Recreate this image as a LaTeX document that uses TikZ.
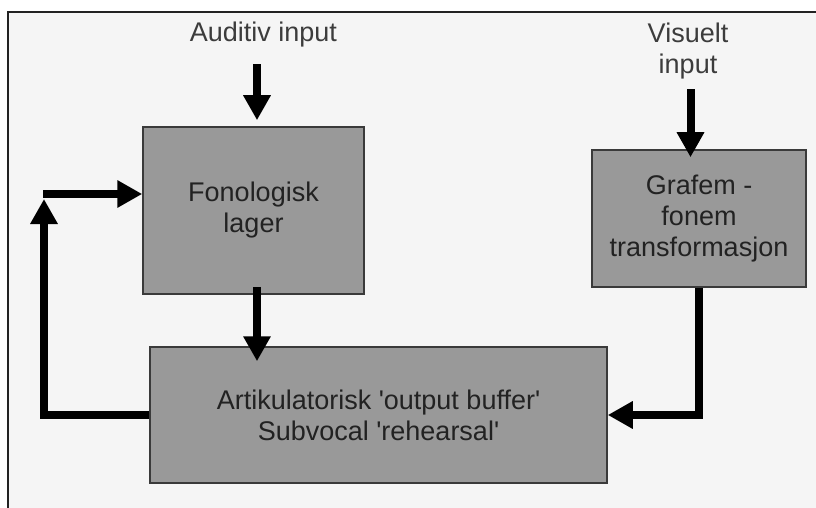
\documentclass[tikz,border=0pt]{standalone}
\usepackage{fontspec}
\setmainfont{Liberation Sans}
\usetikzlibrary{arrows.meta,calc}
\definecolor{bgc}{HTML}{F5F5F5}
\definecolor{boxfill}{HTML}{999999}
\definecolor{boxline}{HTML}{3A3A3A}
\definecolor{txt}{HTML}{222222}
\definecolor{lblc}{HTML}{3C3C3C}
\definecolor{framec}{HTML}{222222}
\begin{document}
\begin{tikzpicture}[x=1pt,y=-1pt,
  box/.style={draw=boxline,fill=boxfill,line width=1.5pt,align=center,text=txt,
    font=\fontsize{27}{31}\selectfont,inner sep=0pt},
  lbl/.style={text=lblc,font=\fontsize{27}{31}\selectfont,align=center,inner sep=0pt},
  arr/.style={line width=8pt,line join=miter,draw=black,-{Triangle[width=26pt,length=25pt]}}]
\useasboundingbox (0,0) rectangle (816,508);
\fill[white] (0,0) rectangle (816,508);
\fill[bgc] (8,12) rectangle (816,508);
\draw[line width=2pt,color=framec] (8,508) -- (8,12) -- (816,12);

\node[box,minimum width=221pt,minimum height=167pt] (fono) at (253.5,210.5) {Fonologisk\\lager};
\node[box,minimum width=214pt,minimum height=137pt] (graf) at (699,218.5) {Grafem -\\fonem\\transformasjon};
\node[box,minimum width=457pt,minimum height=136pt] (artik) at (378.5,415)
  {Artikulatorisk \textquotesingle output buffer\textquotesingle\\Subvocal \textquotesingle rehearsal\textquotesingle};

\node[lbl,anchor=base] (aud) at (263.5,42) {Auditiv input};
\node[lbl] (vis) at (688,51.5) {Visuelt\\input};

\coordinate (audA) at ([xshift=3.5pt,yshift=62pt]fono.north);
\coordinate (audB) at ([xshift=3.5pt,yshift=6pt]fono.north);
\draw[arr] (audA) -- (audB);

\coordinate (visA) at ([xshift=-8.5pt,yshift=60pt]graf.north);
\coordinate (visB) at ([xshift=-8.5pt,yshift=-8pt]graf.north);
\draw[arr] (visA) -- (visB);

\coordinate (fa1) at ([xshift=3.5pt,yshift=8pt]fono.south);
\draw[arr,shorten >=-15pt] (fa1) -- (fa1 |- artik.north);

\draw[arr] (graf.south) |- (artik.east);

\coordinate (fb) at (44,194);
\draw[arr] (artik.west) -| ([yshift=-5pt]fb);
\draw[arr] ([xshift=-1pt]fb) -- (fb -| fono.west);
\end{tikzpicture}
\end{document}
